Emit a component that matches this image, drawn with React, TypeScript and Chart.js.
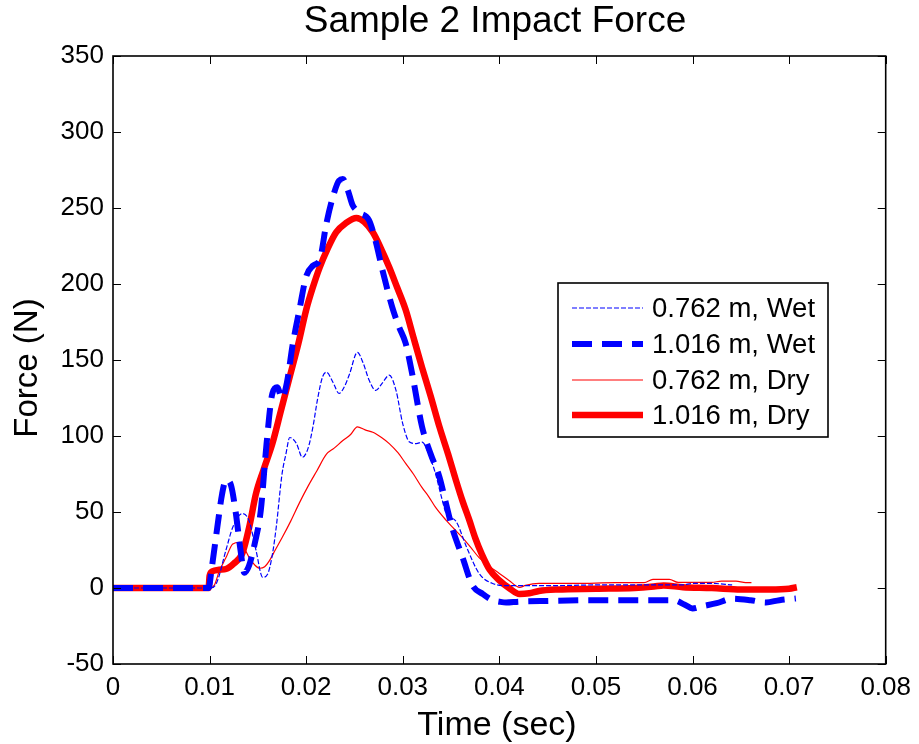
import React, { useEffect, useRef } from "react";
import { Chart, registerables } from "chart.js";

Chart.register(...registerables);

const chartTitle = "Sample 2 Impact Force";
const xTitle = "Time (sec)";
const yTitle = "Force (N)";
const seriesNames = ["0.762 m, Wet", "1.016 m, Wet", "0.762 m, Dry", "1.016 m, Dry"];

const xTicks = [0, 0.01, 0.02, 0.03, 0.04, 0.05, 0.06, 0.07, 0.08];
const yTicks = [-50, 0, 50, 100, 150, 200, 250, 300, 350];

const timeWet762 = [0, 0.01, 0.0107, 0.0117, 0.0124, 0.0134, 0.0141, 0.0148, 0.0155, 0.016, 0.0165, 0.0169, 0.0175, 0.0179, 0.0183, 0.019, 0.0196, 0.0202, 0.0207, 0.0212, 0.0217, 0.0221, 0.0228, 0.0234, 0.024, 0.0245, 0.0253, 0.0259, 0.0265, 0.0272, 0.0279, 0.0286, 0.0293, 0.03, 0.0307, 0.0314, 0.032, 0.0327, 0.0334, 0.034, 0.0345, 0.0355, 0.0366, 0.0379, 0.0393, 0.041, 0.045, 0.05, 0.055, 0.059, 0.06, 0.062, 0.0641];
const forceWet762 = [0, 0, 3, 25, 40, 49, 44, 25, 7, 9, 22, 40, 75, 88, 99, 95, 86, 92, 106, 125, 139, 142, 135, 128, 133, 141, 155, 148, 137, 130, 135, 140, 130, 108, 96, 95, 96, 88, 75, 60, 49, 44, 27, 9.6, 3, 1.5, 1.5, 2, 2, 2, 3, 3, 2];

const timeWet1016 = [0, 0.0099, 0.0102, 0.0108, 0.0113, 0.0117, 0.0122, 0.0127, 0.0132, 0.0136, 0.0141, 0.0147, 0.0153, 0.0159, 0.0165, 0.017, 0.0175, 0.018, 0.0186, 0.0193, 0.02, 0.0207, 0.0214, 0.0221, 0.0228, 0.0234, 0.0238, 0.0243, 0.0248, 0.0255, 0.0265, 0.0272, 0.0279, 0.0289, 0.0296, 0.0303, 0.031, 0.032, 0.0329, 0.0338, 0.0345, 0.0351, 0.0362, 0.0372, 0.0383, 0.0393, 0.04, 0.0407, 0.042, 0.045, 0.05, 0.055, 0.058, 0.0592, 0.06, 0.061, 0.0625, 0.0641, 0.066, 0.0676, 0.069, 0.0707];
const forceWet1016 = [0, 0, 12, 40, 62, 71, 68, 50, 25, 10, 15, 30, 51, 95, 128, 132, 125, 135, 160, 183, 205, 212, 216, 240, 258, 268, 269, 262, 252, 247, 242, 228, 209, 185, 172, 161, 140, 106, 88, 73, 55, 40, 20, 2, -4, -8, -9, -9.6, -9, -8.5, -8, -8, -8, -11, -13.5, -12, -10, -7, -8, -9.5, -8, -6.9];

const timeDry762 = [0, 0.01, 0.0105, 0.011, 0.0117, 0.0124, 0.0131, 0.0136, 0.0141, 0.0147, 0.0152, 0.0157, 0.0162, 0.0168, 0.0175, 0.0184, 0.0193, 0.0202, 0.0211, 0.0221, 0.0229, 0.0238, 0.0246, 0.0253, 0.0261, 0.0269, 0.0278, 0.0286, 0.0295, 0.0303, 0.0311, 0.032, 0.0327, 0.0334, 0.0345, 0.0353, 0.0362, 0.037, 0.0379, 0.039, 0.04, 0.041, 0.0421, 0.0427, 0.0441, 0.048, 0.052, 0.055, 0.0559, 0.0576, 0.0585, 0.062, 0.063, 0.0645, 0.0655, 0.0661];
const forceDry762 = [0, 0, 2, 11, 20, 29, 30, 26, 20, 15, 13, 14, 18, 25, 33, 44, 56, 67, 77, 88, 92, 97, 101, 106, 104, 102.5, 99, 95, 89, 82, 75, 66, 60, 53, 44.5, 39, 33, 27, 20, 14, 9.6, 5, 0.4, 1.7, 3, 3, 3.5, 3.5, 5.7, 5.7, 3.7, 3.7, 4.5, 4.5, 3.5, 3.5];

const timeDry1016 = [0, 0.0099, 0.01, 0.0103, 0.011, 0.0117, 0.0125, 0.0134, 0.0141, 0.0148, 0.0156, 0.0165, 0.0174, 0.0183, 0.0192, 0.02, 0.0207, 0.0214, 0.0222, 0.0231, 0.0241, 0.0252, 0.026, 0.0269, 0.0277, 0.0286, 0.0294, 0.0303, 0.0311, 0.032, 0.0329, 0.0338, 0.0347, 0.0355, 0.0362, 0.0369, 0.0375, 0.0382, 0.039, 0.04, 0.041, 0.0421, 0.0431, 0.0441, 0.046, 0.05, 0.054, 0.056, 0.057, 0.059, 0.062, 0.065, 0.068, 0.07, 0.0708];
const forceDry1016 = [0, 0, 8, 11, 12, 12.5, 16, 23, 40, 62, 78, 95, 117, 139, 161, 183, 198, 211, 223, 234, 240, 243.5, 241, 234, 224, 211, 198, 183, 165, 145, 126, 106, 88, 71, 57, 44.5, 33, 22, 12, 5, 0, -4, -3.5, -2, -1, -0.5, 0, 1, 1.7, 0.5, 0, -1, -1, -0.5, 0.5];

const FONT = "'Liberation Sans', Arial, Helvetica, sans-serif";

function pts(t: number[], f: number[]) {
  return t.map((x, i) => ({ x, y: f[i] }));
}

const framePlugin = {
  id: "framePlugin",
  afterDatasetsDraw(chart: any) {
    const { ctx, chartArea } = chart;
    const { left, right, top, bottom } = chartArea;
    const xs = chart.scales.x;
    const ys = chart.scales.y;
    ctx.save();
    ctx.strokeStyle = "#000";
    ctx.lineWidth = 1;
    const tl = 8;
    ctx.beginPath();
    xTicks.forEach((v) => {
      const px = Math.round(xs.getPixelForValue(v)) + 0.5;
      ctx.moveTo(px, bottom);
      ctx.lineTo(px, bottom - tl);
      ctx.moveTo(px, top);
      ctx.lineTo(px, top + tl);
    });
    yTicks.forEach((v) => {
      const py = Math.round(ys.getPixelForValue(v)) + 0.5;
      ctx.moveTo(left, py);
      ctx.lineTo(left + tl, py);
      ctx.moveTo(right, py);
      ctx.lineTo(right - tl, py);
    });
    ctx.stroke();
    ctx.lineWidth = 1.6;
    ctx.strokeRect(left, top, right - left, bottom - top);

    // legend
    const lx = 558, ly = 283, lw = 270, lh = 154;
    ctx.fillStyle = "#fff";
    ctx.fillRect(lx, ly, lw, lh);
    ctx.lineWidth = 1.6;
    ctx.strokeStyle = "#000";
    ctx.strokeRect(lx, ly, lw, lh);
    const rows = [308, 344, 380, 415];
    chart.data.datasets.forEach((ds: any, i: number) => {
      ctx.save();
      ctx.strokeStyle = ds.borderColor;
      ctx.lineWidth = ds.borderWidth;
      ctx.setLineDash(ds.borderDash || []);
      ctx.beginPath();
      ctx.moveTo(572, rows[i]);
      ctx.lineTo(643, rows[i]);
      ctx.stroke();
      ctx.restore();
      ctx.fillStyle = "#000";
      ctx.font = `27.5px ${FONT}`;
      ctx.textAlign = "left";
      ctx.textBaseline = "middle";
      ctx.fillText(ds.label, 652, rows[i] + 1);
    });

    // titles
    ctx.fillStyle = "#000";
    ctx.textAlign = "center";
    ctx.textBaseline = "alphabetic";
    ctx.font = `37px ${FONT}`;
    ctx.fillText(chartTitle, 495, 32);
    ctx.font = `34px ${FONT}`;
    ctx.fillText(xTitle, 497, 735);
    ctx.save();
    ctx.translate(37, 368);
    ctx.rotate(-Math.PI / 2);
    ctx.font = `33px ${FONT}`;
    ctx.fillText(yTitle, 0, 0);
    ctx.restore();
    ctx.restore();
  },
};

export default function App() {
  const ref = useRef<HTMLCanvasElement | null>(null);
  useEffect(() => {
    document.body.style.margin = "0";
    const canvas = ref.current;
    if (!canvas) return;
    const chart = new Chart(canvas, {
      type: "line",
      data: {
        datasets: [
          {
            label: seriesNames[0],
            data: pts(timeWet762, forceWet762),
            borderColor: "#0000ff",
            borderWidth: 1.2,
            borderDash: [5, 2],
          },
          {
            label: seriesNames[1],
            data: pts(timeWet1016, forceWet1016),
            borderColor: "#0000ff",
            borderWidth: 6,
            borderDash: [20, 10],
          },
          {
            label: seriesNames[2],
            data: pts(timeDry762, forceDry762),
            borderColor: "#ff0000",
            borderWidth: 1.2,
          },
          {
            label: seriesNames[3],
            data: pts(timeDry1016, forceDry1016),
            borderColor: "#ff0000",
            borderWidth: 6.5,
          },
        ] as any,
      },
      options: {
        animation: false,
        responsive: false,
        parsing: false as any,
        elements: {
          point: { radius: 0 },
          line: { cubicInterpolationMode: "monotone", borderJoinStyle: "round", fill: false } as any,
        },
        layout: { padding: { top: 56, right: 32, left: 0, bottom: 0 } },
        plugins: { legend: { display: false }, title: { display: false }, tooltip: { enabled: false } },
        scales: {
          x: {
            type: "linear",
            min: 0,
            max: 0.08,
            afterFit: (s: any) => {
              s.height = 80;
            },
            afterBuildTicks: (s: any) => {
              s.ticks = xTicks.map((v) => ({ value: v }));
            },
            grid: { display: false, drawTicks: false },
            border: { display: false },
            ticks: {
              color: "#000",
              font: { family: FONT, size: 26 },
              padding: 8,
              maxRotation: 0,
              autoSkip: false,
              callback: (v: any) => String(Number(Number(v).toFixed(2))),
            },
          },
          y: {
            type: "linear",
            min: -50,
            max: 350,
            afterFit: (s: any) => {
              s.width = 113;
            },
            afterBuildTicks: (s: any) => {
              s.ticks = yTicks.map((v) => ({ value: v }));
            },
            grid: { display: false, drawTicks: false },
            border: { display: false },
            ticks: {
              color: "#000",
              font: { family: FONT, size: 26 },
              padding: 9,
              autoSkip: false,
              callback: (v: any) => String(v),
            },
          },
        },
      },
      plugins: [framePlugin],
    });
    return () => chart.destroy();
  }, []);
  return (
    <div style={{ width: 919, height: 744, background: "#fff" }}>
      <canvas ref={ref} width={919} height={744} />
    </div>
  );
}
